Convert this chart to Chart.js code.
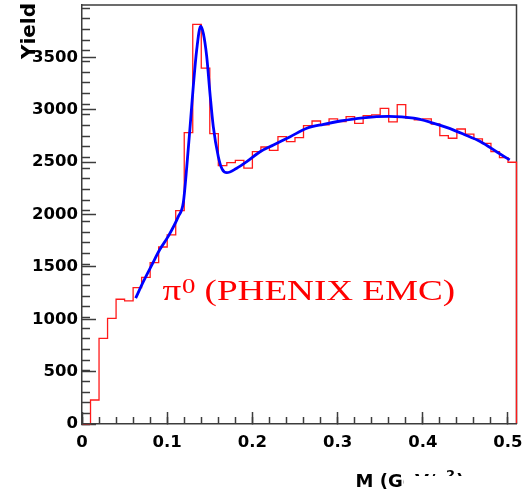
<!DOCTYPE html>
<html>
<head>
<meta charset="utf-8">
<script src="https://cdn.jsdelivr.net/npm/chart.js@4/dist/chart.umd.min.js"></script>
<style>
  html, body { margin: 0; padding: 0; background: #ffffff; }
  canvas { display: block; }
</style>
</head>
<body>
<canvas id="c" width="527" height="496"></canvas>
<script>
// Invariant-mass histogram: lower bin edges (GeV/c^2), bins 0.01 wide
const binLow = [
  0.00, 0.01, 0.02, 0.03, 0.04, 0.05, 0.06, 0.07, 0.08, 0.09,
  0.10, 0.11, 0.12, 0.13, 0.14, 0.15, 0.16, 0.17, 0.18, 0.19,
  0.20, 0.21, 0.22, 0.23, 0.24, 0.25, 0.26, 0.27, 0.28, 0.29,
  0.30, 0.31, 0.32, 0.33, 0.34, 0.35, 0.36, 0.37, 0.38, 0.39,
  0.40, 0.41, 0.42, 0.43, 0.44, 0.45, 0.46, 0.47, 0.48, 0.49,
  0.50
];
const lastBinUp = 0.51;

// Counts per bin
const counts = [
  0, 225, 804, 991, 1170, 1154, 1279, 1376, 1513, 1660,
  1773, 2001, 2733, 3749, 3337, 2724, 2423, 2451, 2472, 2400,
  2554, 2598, 2567, 2695, 2648, 2686, 2799, 2842, 2805, 2861,
  2836, 2883, 2820, 2892, 2899, 2961, 2833, 2996, 2870, 2852,
  2861, 2814, 2705, 2680, 2767, 2718, 2674, 2633, 2554, 2498,
  2455
];

// Fit (Gaussian peak on a smooth background), sampled along the curve
const fitMass = [
  0.063, 0.072, 0.082, 0.091, 0.101, 0.113, 0.119, 0.123, 0.1275, 0.1306,
  0.1346, 0.1393, 0.1424, 0.1464, 0.1502, 0.1541, 0.160, 0.1645, 0.170, 0.1816,
  0.1934, 0.209, 0.2247, 0.2444, 0.264, 0.2835, 0.3032, 0.33, 0.36, 0.3894,
  0.409, 0.4287, 0.448, 0.4679, 0.4875, 0.502
];
const fitYield = [
  1180, 1335, 1492, 1632, 1757, 1945, 2080, 2414, 2852, 3164,
  3508, 3732, 3665, 3446, 3102, 2789, 2507, 2390, 2357, 2399,
  2461, 2554, 2617, 2695, 2774, 2811, 2842, 2872, 2885, 2868,
  2830, 2780, 2718, 2648, 2549, 2477
];

// Axis ranges and tick labels
const xRange = [0, 0.51];
const yRange = [0, 3930];
const xTickLabels = ['0', '0.1', '0.2', '0.3', '0.4', '0.5'];
const yTickLabels = ['0', '500', '1000', '1500', '2000', '2500', '3000', '3500'];
const xMajorStep = 0.1, xMinorStep = 0.02;
const yMajorStep = 500, yMinorStep = 100;

const AXIS_COLOR = '#3c3c3c';
const TICK_FONT = { family: '"DejaVu Sans", sans-serif', size: 16.5, weight: 'bold' };

// Histogram outline as a stepped path through the bin edges
const histPoints = [];
for (let i = 0; i < binLow.length; i++) {
  histPoints.push({ x: binLow[i], y: counts[i] });
}
histPoints.push({ x: lastBinUp, y: counts[counts.length - 1] });
histPoints.push({ x: lastBinUp, y: 0 });

const fitPoints = fitMass.map((m, i) => ({ x: m, y: fitYield[i] }));

function zeroPadding(scale) {
  scale.paddingLeft = 0; scale.paddingRight = 0;
  scale.paddingTop = 0; scale.paddingBottom = 0;
}

// Frame, axis titles and the text label inside the plot
const decorations = {
  id: 'decorations',
  beforeDatasetsDraw(chart) {
    const { ctx, chartArea: a } = chart;
    ctx.save();
    ctx.strokeStyle = AXIS_COLOR;
    ctx.lineWidth = 1.5;
    ctx.beginPath();
    ctx.moveTo(a.left, a.top);
    ctx.lineTo(a.right, a.top);
    ctx.lineTo(a.right, a.bottom);
    ctx.stroke();
    ctx.restore();
  },
  afterDraw(chart) {
    const { ctx, chartArea: a, scales } = chart;
    ctx.save();

    // y title, reading upward, ending at the top of the frame
    ctx.fillStyle = '#000';
    ctx.font = 'bold 20px "DejaVu Sans", sans-serif';
    ctx.translate(35, a.top - 2);
    ctx.rotate(-Math.PI / 2);
    ctx.textAlign = 'right';
    ctx.textBaseline = 'alphabetic';
    ctx.fillText('Yield', 0, 0);
    ctx.setTransform(1, 0, 0, 1, 0, 0);

    // x title
    const tx = a.right - 161, ty = a.bottom + 63;
    ctx.textAlign = 'left';
    ctx.font = 'bold 18px "DejaVu Sans", sans-serif';
    const part1 = 'M (GeV/c';
    ctx.fillText(part1, tx, ty);
    let w = ctx.measureText(part1).width;
    ctx.font = 'bold 13px "DejaVu Sans", sans-serif';
    ctx.fillText('2', tx + w, ty - 8);
    w += ctx.measureText('2').width;
    ctx.font = 'bold 18px "DejaVu Sans", sans-serif';
    ctx.fillText(')', tx + w + 1, ty);
    const cut = tx + ctx.measureText('M (G').width + 1;
    ctx.fillStyle = '#fff';
    ctx.fillRect(cut, ty - 11, chart.width - cut, chart.height - ty + 11);

    // label inside the plot
    const lx = scales.x.getPixelForValue(0.0945);
    const ly = scales.y.getPixelForValue(1160);
    ctx.translate(lx, ly);
    ctx.scale(1.28, 1);
    ctx.fillStyle = '#ff0000';
    ctx.textBaseline = 'alphabetic';
    ctx.font = '29px "Liberation Serif", "Times New Roman", serif';
    ctx.fillText('\u03c0', 0, 0);
    let lw = ctx.measureText('\u03c0').width + 0.5;
    ctx.font = '21px "Liberation Serif", "Times New Roman", serif';
    ctx.fillText('0', lw, -7);
    lw += ctx.measureText('0').width;
    ctx.font = '29px "Liberation Serif", "Times New Roman", serif';
    ctx.fillText(' (PHENIX EMC)', lw, 0);
    ctx.restore();
  }
};

new Chart(document.getElementById('c'), {
  type: 'line',
  data: {
    datasets: [
      {
        label: 'fit',
        data: fitPoints,
        borderColor: '#0000ff',
        borderWidth: 2.8,
        pointRadius: 0,
        fill: false,
        cubicInterpolationMode: 'monotone',
        order: 0
      },
      {
        label: 'counts',
        data: histPoints,
        borderColor: '#ff1a1a',
        borderWidth: 1.3,
        pointRadius: 0,
        fill: false,
        stepped: 'before',
        clip: 6,
        order: 1
      }
    ]
  },
  options: {
    responsive: false,
    animation: false,
    devicePixelRatio: 1,
    layout: { padding: { top: 5, right: 10.5, left: 0, bottom: 0 } },
    plugins: { legend: { display: false }, tooltip: { enabled: false } },
    scales: {
      x: {
        type: 'linear', position: 'bottom', weight: 1,
        min: xRange[0], max: xRange[1],
        ticks: {
          stepSize: xMajorStep, includeBounds: false, autoSkip: false, maxRotation: 0,
          padding: 21, color: '#000', font: TICK_FONT,
          callback: (v, i) => xTickLabels[i]
        },
        grid: { drawOnChartArea: false, tickLength: -12, tickColor: AXIS_COLOR, tickWidth: 1.5 },
        border: { display: true, color: AXIS_COLOR, width: 1.5, z: 1 },
        afterFit(s) { s.height = 72; zeroPadding(s); }
      },
      xMinor: {
        type: 'linear', position: 'bottom', weight: 0,
        min: xRange[0], max: xRange[1],
        ticks: { display: false, stepSize: xMinorStep, includeBounds: false },
        grid: { drawOnChartArea: false, tickLength: -7, tickColor: AXIS_COLOR, tickWidth: 1.5 },
        border: { display: false },
        afterFit(s) { s.height = 0; zeroPadding(s); }
      },
      y: {
        type: 'linear', position: 'left', weight: 1,
        min: yRange[0], max: yRange[1],
        ticks: {
          stepSize: yMajorStep, includeBounds: false, autoSkip: false,
          padding: 18, color: '#000', font: TICK_FONT,
          callback: (v, i) => yTickLabels[i]
        },
        grid: { drawOnChartArea: false, tickLength: -14, tickColor: AXIS_COLOR, tickWidth: 1.5 },
        border: { display: true, color: AXIS_COLOR, width: 1.5, z: 1 },
        afterFit(s) { s.width = 82; zeroPadding(s); }
      },
      yMinor: {
        type: 'linear', position: 'left', weight: 0,
        min: yRange[0], max: yRange[1],
        ticks: { display: false, stepSize: yMinorStep, includeBounds: false },
        grid: { drawOnChartArea: false, tickLength: -8, tickColor: AXIS_COLOR, tickWidth: 1.5 },
        border: { display: false },
        afterFit(s) { s.width = 0; zeroPadding(s); }
      }
    }
  },
  plugins: [decorations]
});
</script>
</body>
</html>
